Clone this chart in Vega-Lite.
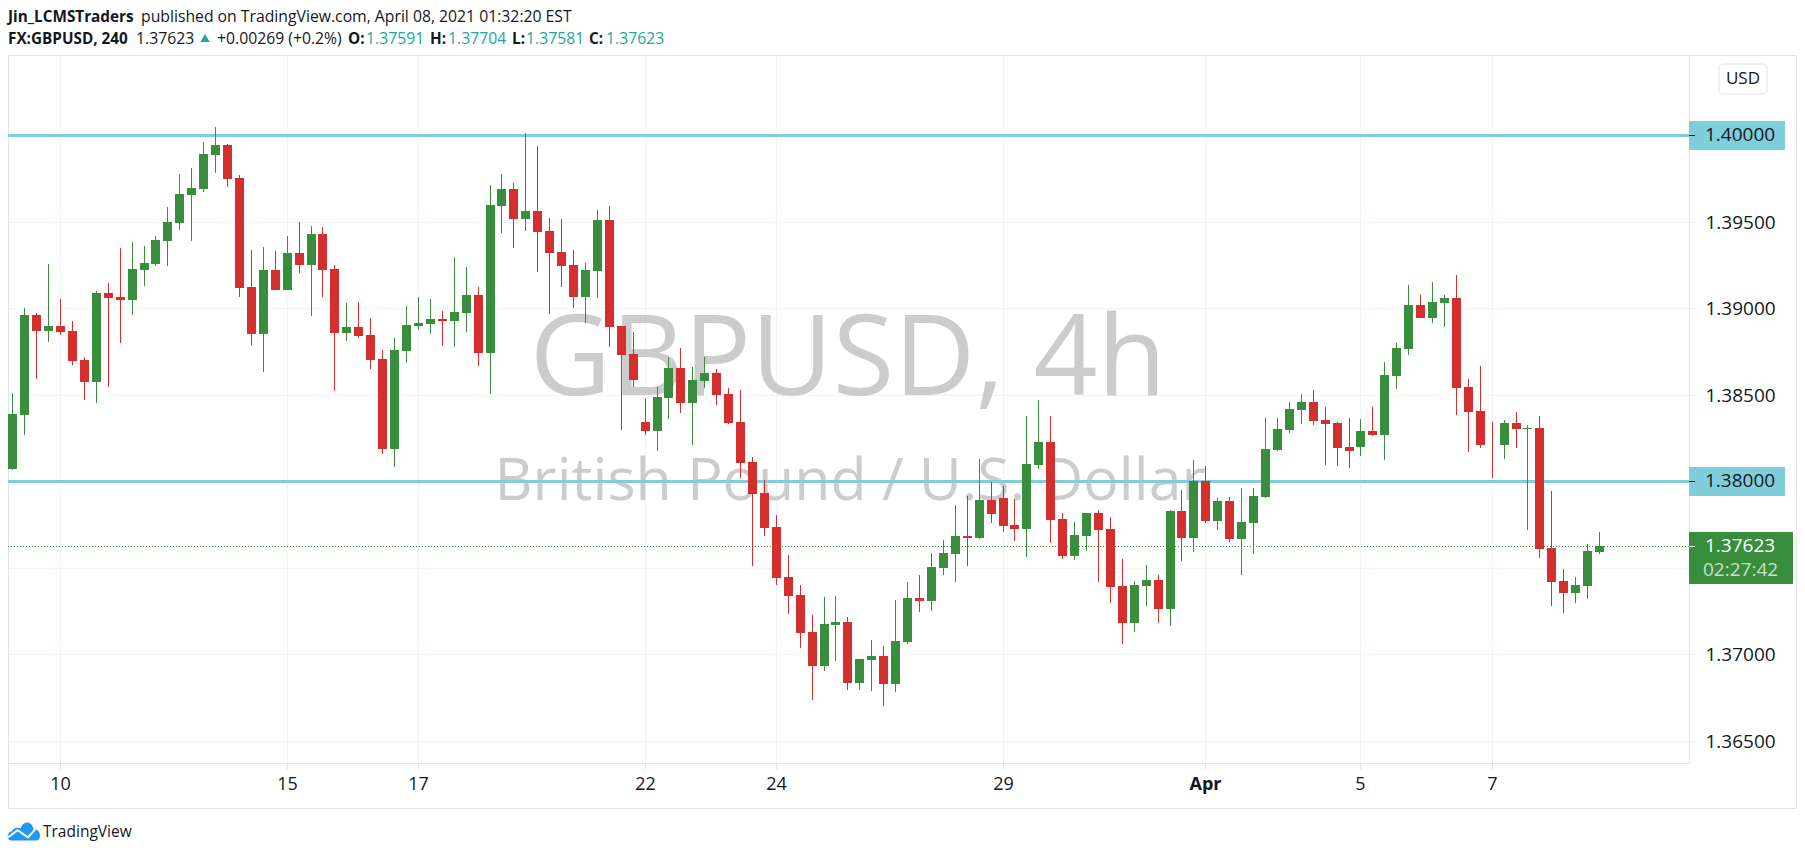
{"$schema":"https://vega.github.io/schema/vega-lite/v6.json","width":1681,"height":708,"autosize":{"type":"none"},"padding":{"left":8,"top":55,"right":116,"bottom":92},"background":"white","view":{"stroke":"#e0e3eb","fill":null},
"datasets":{"candles":[
{"i":0,"o":1.38071,"h":1.38511,"l":1.38065,"c":1.38389},{"i":1,"o":1.38383,"h":1.39002,"l":1.38268,"c":1.38962},{"i":2,"o":1.38962,"h":1.38973,"l":1.38592,"c":1.38869},{"i":3,"o":1.38869,"h":1.39257,"l":1.38806,"c":1.38898},{"i":4,"o":1.38898,"h":1.39054,"l":1.38846,"c":1.38864},{"i":5,"o":1.38869,"h":1.38927,"l":1.38673,"c":1.38696},{"i":6,"o":1.38702,"h":1.38719,"l":1.3847,"c":1.38574},{"i":7,"o":1.38574,"h":1.39101,"l":1.38453,"c":1.39089},{"i":8,"o":1.39089,"h":1.39147,"l":1.38545,"c":1.3906},{"i":9,"o":1.39066,"h":1.39349,"l":1.388,"c":1.39049},
{"i":10,"o":1.39049,"h":1.39384,"l":1.38962,"c":1.39228},{"i":11,"o":1.39222,"h":1.39361,"l":1.3913,"c":1.39263},{"i":12,"o":1.39257,"h":1.39419,"l":1.39245,"c":1.39396},{"i":13,"o":1.3939,"h":1.39587,"l":1.39245,"c":1.395},{"i":14,"o":1.39494,"h":1.39777,"l":1.39453,"c":1.39662},{"i":15,"o":1.39656,"h":1.39812,"l":1.3939,"c":1.39696},{"i":16,"o":1.39691,"h":1.39962,"l":1.39673,"c":1.39893},{"i":17,"o":1.39887,"h":1.40049,"l":1.39783,"c":1.39945},{"i":18,"o":1.39945,"h":1.39951,"l":1.39702,"c":1.39748},{"i":19,"o":1.39754,"h":1.39772,"l":1.39066,"c":1.39118},
{"i":20,"o":1.39124,"h":1.39338,"l":1.38788,"c":1.38852},{"i":21,"o":1.38852,"h":1.39355,"l":1.38632,"c":1.39222},{"i":22,"o":1.39222,"h":1.39332,"l":1.39106,"c":1.39106},{"i":23,"o":1.39106,"h":1.39419,"l":1.39106,"c":1.3932},{"i":24,"o":1.3932,"h":1.395,"l":1.39205,"c":1.39251},{"i":25,"o":1.39251,"h":1.39477,"l":1.38956,"c":1.3943},{"i":26,"o":1.3943,"h":1.39471,"l":1.39066,"c":1.39222},{"i":27,"o":1.39228,"h":1.39251,"l":1.38522,"c":1.38858},{"i":28,"o":1.38858,"h":1.39031,"l":1.38811,"c":1.38892},{"i":29,"o":1.38892,"h":1.39037,"l":1.38829,"c":1.3884},
{"i":30,"o":1.38846,"h":1.38944,"l":1.38649,"c":1.38702},{"i":31,"o":1.38707,"h":1.38759,"l":1.38158,"c":1.38187},{"i":32,"o":1.38187,"h":1.38829,"l":1.38083,"c":1.38759},{"i":33,"o":1.38754,"h":1.39014,"l":1.38684,"c":1.38904},{"i":34,"o":1.38898,"h":1.39066,"l":1.38875,"c":1.38916},{"i":35,"o":1.3891,"h":1.39054,"l":1.38852,"c":1.38939},{"i":36,"o":1.38939,"h":1.38985,"l":1.38783,"c":1.38927},{"i":37,"o":1.38927,"h":1.39297,"l":1.38777,"c":1.38979},{"i":38,"o":1.38973,"h":1.39239,"l":1.38864,"c":1.39078},{"i":39,"o":1.39078,"h":1.39124,"l":1.38667,"c":1.38742},
{"i":40,"o":1.38742,"h":1.39714,"l":1.38505,"c":1.39598},{"i":41,"o":1.39592,"h":1.39777,"l":1.39436,"c":1.39691},{"i":42,"o":1.39691,"h":1.39725,"l":1.39349,"c":1.39517},{"i":43,"o":1.39517,"h":1.40014,"l":1.39448,"c":1.39563},{"i":44,"o":1.39563,"h":1.39939,"l":1.39211,"c":1.39442},{"i":45,"o":1.39448,"h":1.39523,"l":1.38968,"c":1.3932},{"i":46,"o":1.39326,"h":1.39517,"l":1.39124,"c":1.39245},{"i":47,"o":1.39251,"h":1.39338,"l":1.39002,"c":1.39066},{"i":48,"o":1.39066,"h":1.39263,"l":1.38916,"c":1.39222},{"i":49,"o":1.39216,"h":1.39569,"l":1.3906,"c":1.39511},
{"i":50,"o":1.39511,"h":1.39592,"l":1.38777,"c":1.38892},{"i":51,"o":1.38898,"h":1.38898,"l":1.38297,"c":1.3873},{"i":52,"o":1.38736,"h":1.38864,"l":1.38545,"c":1.38586},{"i":53,"o":1.38343,"h":1.38476,"l":1.38268,"c":1.38291},{"i":54,"o":1.38291,"h":1.38545,"l":1.38175,"c":1.38488},{"i":55,"o":1.38482,"h":1.38719,"l":1.3836,"c":1.38655},{"i":56,"o":1.38655,"h":1.38771,"l":1.38395,"c":1.38453},{"i":57,"o":1.38453,"h":1.38661,"l":1.3821,"c":1.38586},{"i":58,"o":1.3858,"h":1.38719,"l":1.3854,"c":1.38626},{"i":59,"o":1.38626,"h":1.38649,"l":1.38441,"c":1.38499},
{"i":60,"o":1.38505,"h":1.3854,"l":1.38331,"c":1.38337},{"i":61,"o":1.38343,"h":1.38528,"l":1.38019,"c":1.38106},{"i":62,"o":1.38112,"h":1.3814,"l":1.3751,"c":1.37926},{"i":63,"o":1.37932,"h":1.38007,"l":1.37684,"c":1.3773},{"i":64,"o":1.37736,"h":1.37805,"l":1.374,"c":1.37441},{"i":65,"o":1.37446,"h":1.37574,"l":1.37232,"c":1.37337},{"i":66,"o":1.37342,"h":1.374,"l":1.37036,"c":1.37122},{"i":67,"o":1.37128,"h":1.37227,"l":1.36735,"c":1.36932},{"i":68,"o":1.36932,"h":1.37331,"l":1.36903,"c":1.37175},{"i":69,"o":1.37169,"h":1.37337,"l":1.36961,"c":1.37186},
{"i":70,"o":1.37186,"h":1.37215,"l":1.36793,"c":1.36833},{"i":71,"o":1.36833,"h":1.36972,"l":1.36793,"c":1.36972},{"i":72,"o":1.36966,"h":1.37082,"l":1.36787,"c":1.36989},{"i":73,"o":1.36989,"h":1.37047,"l":1.367,"c":1.36827},{"i":74,"o":1.36827,"h":1.37313,"l":1.36781,"c":1.37076},{"i":75,"o":1.3707,"h":1.37417,"l":1.37059,"c":1.37325},{"i":76,"o":1.37325,"h":1.37458,"l":1.37244,"c":1.37308},{"i":77,"o":1.37308,"h":1.37585,"l":1.3725,"c":1.37504},{"i":78,"o":1.37498,"h":1.3766,"l":1.37458,"c":1.37585},{"i":79,"o":1.37579,"h":1.37863,"l":1.37417,"c":1.37684},
{"i":80,"o":1.37684,"h":1.37915,"l":1.3751,"c":1.37672},{"i":81,"o":1.37672,"h":1.38129,"l":1.37666,"c":1.37892},{"i":82,"o":1.37892,"h":1.37996,"l":1.37759,"c":1.37811},{"i":83,"o":1.37903,"h":1.37973,"l":1.37707,"c":1.37741},{"i":84,"o":1.37747,"h":1.37898,"l":1.37655,"c":1.37724},{"i":85,"o":1.37724,"h":1.38378,"l":1.37562,"c":1.381},{"i":86,"o":1.38094,"h":1.3847,"l":1.38071,"c":1.38227},{"i":87,"o":1.38227,"h":1.38378,"l":1.37643,"c":1.37776},{"i":88,"o":1.37782,"h":1.37817,"l":1.3755,"c":1.37568},{"i":89,"o":1.37568,"h":1.37765,"l":1.37545,"c":1.37689},
{"i":90,"o":1.37684,"h":1.37817,"l":1.37597,"c":1.37817},{"i":91,"o":1.37817,"h":1.37834,"l":1.37417,"c":1.37718},{"i":92,"o":1.37724,"h":1.37793,"l":1.37296,"c":1.37389},{"i":93,"o":1.37394,"h":1.3755,"l":1.37059,"c":1.3718},{"i":94,"o":1.3718,"h":1.37423,"l":1.37128,"c":1.374},{"i":95,"o":1.37394,"h":1.37516,"l":1.37279,"c":1.37429},{"i":96,"o":1.37429,"h":1.37458,"l":1.3718,"c":1.37261},{"i":97,"o":1.37261,"h":1.37834,"l":1.37163,"c":1.37828},{"i":98,"o":1.37828,"h":1.3795,"l":1.37539,"c":1.37672},{"i":99,"o":1.37672,"h":1.38123,"l":1.37591,"c":1.38002},
{"i":100,"o":1.38002,"h":1.38088,"l":1.37759,"c":1.3777},{"i":101,"o":1.3777,"h":1.37903,"l":1.37718,"c":1.37886},{"i":102,"o":1.37886,"h":1.37909,"l":1.37649,"c":1.37666},{"i":103,"o":1.37666,"h":1.37961,"l":1.37458,"c":1.37765},{"i":104,"o":1.37759,"h":1.37961,"l":1.3758,"c":1.37915},{"i":105,"o":1.37909,"h":1.38366,"l":1.37903,"c":1.38187},{"i":106,"o":1.38181,"h":1.38366,"l":1.38175,"c":1.38302},{"i":107,"o":1.38297,"h":1.38459,"l":1.38279,"c":1.38418},{"i":108,"o":1.38412,"h":1.38505,"l":1.38331,"c":1.38459},{"i":109,"o":1.38459,"h":1.38528,"l":1.38326,"c":1.38349},
{"i":110,"o":1.38355,"h":1.3843,"l":1.38094,"c":1.38331},{"i":111,"o":1.38337,"h":1.38343,"l":1.38088,"c":1.38193},{"i":112,"o":1.38198,"h":1.38366,"l":1.38077,"c":1.38175},{"i":113,"o":1.38198,"h":1.3836,"l":1.38146,"c":1.38291},{"i":114,"o":1.38291,"h":1.3843,"l":1.38262,"c":1.38268},{"i":115,"o":1.38268,"h":1.3869,"l":1.38123,"c":1.38615},{"i":116,"o":1.38609,"h":1.388,"l":1.38534,"c":1.38771},{"i":117,"o":1.38765,"h":1.39135,"l":1.3873,"c":1.3902},{"i":118,"o":1.3902,"h":1.39078,"l":1.38944,"c":1.38944},{"i":119,"o":1.38944,"h":1.39153,"l":1.38916,"c":1.39037},
{"i":120,"o":1.39031,"h":1.39078,"l":1.38892,"c":1.3906},{"i":121,"o":1.3906,"h":1.39193,"l":1.38383,"c":1.3854},{"i":122,"o":1.38545,"h":1.38592,"l":1.38169,"c":1.38401},{"i":123,"o":1.38407,"h":1.38667,"l":1.38193,"c":1.3821},{"i":124,"o":1.38217,"h":1.38343,"l":1.38019,"c":1.38214},{"i":125,"o":1.3821,"h":1.38355,"l":1.38129,"c":1.38337},{"i":126,"o":1.38337,"h":1.38401,"l":1.38193,"c":1.38302},{"i":127,"o":1.38303,"h":1.38326,"l":1.37718,"c":1.38306},{"i":128,"o":1.38308,"h":1.38378,"l":1.37556,"c":1.37608},{"i":129,"o":1.37614,"h":1.37944,"l":1.37279,"c":1.37418},
{"i":130,"o":1.37423,"h":1.37493,"l":1.37238,"c":1.37354},{"i":131,"o":1.37354,"h":1.37446,"l":1.37296,"c":1.374},{"i":132,"o":1.37394,"h":1.37637,"l":1.37319,"c":1.37597},{"i":133,"o":1.37591,"h":1.37704,"l":1.37581,"c":1.37623}
]},
"layer":[
{"data":{"values":[{"t":"GBPUSD, 4h"}]},"mark":{"type":"text","font":"Open Sans","fontSize":112,"color":"#cccccc","align":"center","baseline":"alphabetic"},"encoding":{
"x":{"datum":70.05,"type":"quantitative","scale":{"domain":[-0.36,140.54],"nice":false,"zero":false,"round":true,"padding":0},"axis":{"title":null,"values":[4,23,34,53,64,83,100,113,124],"labelExpr":"{'4':'10','23':'15','34':'17','53':'22','64':'24','83':'29','100':'Apr','113':'5','124':'7'}[datum.value]","labelFont":"Open Sans","labelFontSize":18,"labelColor":"#131722","labelPadding":6,"labelOverlap":false,"labelFlush":false,"labelBound":false,"labelAngle":0,"domain":false,"tickColor":"#e0e3eb","tickSize":6,"grid":true,"gridColor":"#f0f3fa","gridWidth":1,"zindex":0,"labelFontWeight":{"condition":{"test":"datum.value==100","value":"bold"},"value":"normal"}}},
"y":{"datum":1.38499,"type":"quantitative","scale":{"domain":[1.363699,1.40465],"nice":false,"zero":false,"round":true},"axis":{"title":null,"orient":"right","values":[1.365,1.37,1.375,1.385,1.39,1.395],"format":".5f","labelFont":"Open Sans","labelFontSize":19,"labelColor":"#131722","labelPadding":10,"labelAlign":"left","domain":false,"tickColor":"#f0f3fa","tickSize":6,"grid":true,"gridColor":"#f0f3fa","gridWidth":1,"zindex":0}},
"text":{"field":"t"}}},
{"data":{"values":[{"t":"British Pound / U.S. Dollar"}]},"mark":{"type":"text","font":"Open Sans","fontSize":59,"color":"#cccccc","align":"center","baseline":"alphabetic"},"encoding":{"x":{"datum":70.2,"type":"quantitative"},"y":{"datum":1.37892,"type":"quantitative"},"text":{"field":"t"}}},
{"data":{"values":[{"level":1.4},{"level":1.38}]},"mark":{"type":"rule","color":"#80cedc","strokeWidth":3,"clip":true,"yOffset":0.5},"encoding":{"y":{"field":"level","type":"quantitative"}}},
{"data":{"values":[{"price":1.37623}]},"mark":{"type":"rule","color":"#388e3c","strokeWidth":1,"strokeDash":[1,2],"clip":true,"yOffset":0.5},"encoding":{"y":{"field":"price","type":"quantitative"}}},
{"data":{"name":"candles"},"mark":{"type":"rule","strokeWidth":1,"clip":true,"xOffset":0.5},"encoding":{"x":{"field":"i","type":"quantitative"},"y":{"field":"h","type":"quantitative"},"y2":{"field":"l"},"color":{"condition":{"test":"datum.c>=datum.o","value":"#388e3c"},"value":"#d32f2f"}}},
{"data":{"name":"candles"},"mark":{"type":"bar","width":9,"orient":"vertical","clip":true,"xOffset":0.5},"encoding":{"x":{"field":"i","type":"quantitative"},"y":{"field":"o","type":"quantitative"},"y2":{"field":"c"},"color":{"condition":{"test":"datum.c>=datum.o","value":"#388e3c"},"value":"#d32f2f"}}},
{"data":{"values":[{"a":0}]},"mark":{"type":"rule","color":"#e0e3eb","strokeWidth":1,"yOffset":0.5},"encoding":{"x":{"datum":140.54,"type":"quantitative"},"x2":{"datum":149.54},"y":{"datum":1.40465,"type":"quantitative"}}},
{"data":{"values":[{"a":0}]},"mark":{"type":"rule","color":"#e0e3eb","strokeWidth":1,"xOffset":0.5},"encoding":{"x":{"datum":149.54,"type":"quantitative"},"y":{"datum":1.40465,"type":"quantitative"},"y2":{"datum":1.3611}}},
{"data":{"values":[{"a":0}]},"mark":{"type":"rule","color":"#e0e3eb","strokeWidth":1,"yOffset":0.5},"encoding":{"x":{"datum":-0.36,"type":"quantitative"},"x2":{"datum":149.54},"y":{"datum":1.3611,"type":"quantitative"}}},
{"data":{"values":[{"a":0}]},"mark":{"type":"rule","color":"#e0e3eb","strokeWidth":1,"xOffset":0.5},"encoding":{"x":{"datum":-0.36,"type":"quantitative"},"y":{"datum":1.363699,"type":"quantitative"},"y2":{"datum":1.3611}}},
{"data":{"values":[{"a":0}]},"mark":{"type":"rect","fill":"white","stroke":"#e0e3eb","strokeWidth":1,"cornerRadius":4},"encoding":{"x":{"datum":143.06,"type":"quantitative"},"x2":{"datum":147.08},"y":{"datum":1.40414,"type":"quantitative"},"y2":{"datum":1.4024}}},
{"data":{"values":[{"t":"USD"}]},"mark":{"type":"text","font":"Open Sans","fontSize":17,"color":"#131722","align":"center","baseline":"middle"},"encoding":{"x":{"datum":145.07,"type":"quantitative"},"y":{"datum":1.40327,"type":"quantitative"},"text":{"field":"t"}}},
{"data":{"values":[{"top":1.40084,"bot":1.39916},{"top":1.38083,"bot":1.37915}]},"mark":{"type":"rect","fill":"#80cedc","cornerRadius":1},"encoding":{"x":{"datum":140.54,"type":"quantitative"},"x2":{"datum":148.59},"y":{"field":"top","type":"quantitative"},"y2":{"field":"bot"}}},
{"data":{"values":[{"top":1.37707,"bot":1.37406}]},"mark":{"type":"rect","fill":"#388e3c","cornerRadius":1},"encoding":{"x":{"datum":140.54,"type":"quantitative"},"x2":{"datum":149.26},"y":{"field":"top","type":"quantitative"},"y2":{"field":"bot"}}},
{"data":{"values":[{"level":1.4},{"level":1.38}]},"mark":{"type":"rule","color":"#131722","strokeWidth":1,"yOffset":0.5},"encoding":{"x":{"datum":140.54,"type":"quantitative"},"x2":{"datum":141.05},"y":{"field":"level","type":"quantitative"}}},
{"data":{"values":[{"price":1.37623}]},"mark":{"type":"rule","color":"#ffffff","strokeWidth":1,"yOffset":0.5},"encoding":{"x":{"datum":140.54,"type":"quantitative"},"x2":{"datum":141.05},"y":{"field":"price","type":"quantitative"}}},
{"data":{"values":[{"level":1.4,"t":"1.40000"},{"level":1.38,"t":"1.38000"}]},"mark":{"type":"text","font":"Open Sans","fontSize":19,"color":"#131722","align":"left","baseline":"middle"},"encoding":{"x":{"datum":141.89,"type":"quantitative"},"y":{"field":"level","type":"quantitative"},"text":{"field":"t"}}},
{"data":{"values":[{"t":"1.37623"}]},"mark":{"type":"text","font":"Open Sans","fontSize":19,"color":"#ffffff","align":"left","baseline":"middle"},"encoding":{"x":{"datum":141.89,"type":"quantitative"},"y":{"datum":1.37626,"type":"quantitative"},"text":{"field":"t"}}},
{"data":{"values":[{"t":"02:27:42"}]},"mark":{"type":"text","font":"Open Sans","fontSize":19,"color":"#c8e0ca","align":"left","baseline":"middle"},"encoding":{"x":{"datum":141.72,"type":"quantitative"},"y":{"datum":1.37487,"type":"quantitative"},"text":{"field":"t"}}},
{"data":{"values":[{"t":"Jin_LCMSTraders"}]},"mark":{"type":"text","font":"Open Sans","fontSize":15.3,"fontWeight":"bold","color":"#131722","align":"left","baseline":"alphabetic"},"encoding":{"x":{"datum":-0.36,"type":"quantitative"},"y":{"datum":1.40656,"type":"quantitative"},"text":{"field":"t"}}},
{"data":{"values":[{"t":"published on TradingView.com, April 08, 2021 01:32:20 EST"}]},"mark":{"type":"text","font":"Open Sans","fontSize":15.75,"color":"#131722","align":"left","baseline":"alphabetic"},"encoding":{"x":{"datum":10.79,"type":"quantitative"},"y":{"datum":1.40656,"type":"quantitative"},"text":{"field":"t"}}},
{"data":{"values":[{"t":"FX:GBPUSD, 240","p":-0.36},{"t":"O:","p":28.14},{"t":"H:","p":35.0},{"t":"L:","p":41.89},{"t":"C:","p":48.34}]},"mark":{"type":"text","font":"Open Sans","fontSize":15.3,"fontWeight":"bold","color":"#131722","align":"left","baseline":"alphabetic"},"encoding":{"x":{"field":"p","type":"quantitative"},"y":{"datum":1.40529,"type":"quantitative"},"text":{"field":"t"}}},
{"data":{"values":[{"t":"1.37623","p":10.37},{"t":"+0.00269 (+0.2%)","p":17.12}]},"mark":{"type":"text","font":"Open Sans","fontSize":15.75,"color":"#131722","align":"left","baseline":"alphabetic"},"encoding":{"x":{"field":"p","type":"quantitative"},"y":{"datum":1.40529,"type":"quantitative"},"text":{"field":"t"}}},
{"data":{"values":[{"t":"1.37591","p":29.65},{"t":"1.37704","p":36.52},{"t":"1.37581","p":43.06},{"t":"1.37623","p":49.77}]},"mark":{"type":"text","font":"Open Sans","fontSize":15.75,"color":"#26a69a","align":"left","baseline":"alphabetic"},"encoding":{"x":{"field":"p","type":"quantitative"},"y":{"datum":1.40529,"type":"quantitative"},"text":{"field":"t"}}},
{"data":{"values":[{"a":0}]},"mark":{"type":"point","shape":"triangle-up","filled":true,"color":"#26a69a","size":90,"opacity":1},"encoding":{"x":{"datum":16.15,"type":"quantitative"},"y":{"datum":1.40564,"type":"quantitative"}}},
{"data":{"values":[{"a":0}]},"mark":{"type":"point","shape":"M-0.8 0.6C-1.1 0.6-1.1 0.05-0.75 0.02C-0.7-0.2-0.4-0.27-0.2-0.15C-0.1-0.65 0.5-0.7 0.6-0.1C1.05-0.15 1.15 0.6 0.75 0.6Z","filled":true,"color":"#2196f3","size":1024,"opacity":1},"encoding":{"x":{"datum":0.98,"type":"quantitative"},"y":{"datum":1.35974,"type":"quantitative"}}},
{"data":{"values":[{"a":0}]},"mark":{"type":"point","shape":"M-1 0.4L-0.4-0.05L0.25 0.4L0.7-0.1","filled":false,"stroke":"white","fill":null,"strokeWidth":2,"size":1024,"opacity":1},"encoding":{"x":{"datum":0.98,"type":"quantitative"},"y":{"datum":1.35974,"type":"quantitative"}}},
{"data":{"values":[{"t":"TradingView"}]},"mark":{"type":"text","font":"Open Sans","fontSize":15.5,"color":"#131722","align":"left","baseline":"alphabetic"},"encoding":{"x":{"datum":2.57,"type":"quantitative"},"y":{"datum":1.35943,"type":"quantitative"},"text":{"field":"t"}}}
]}
